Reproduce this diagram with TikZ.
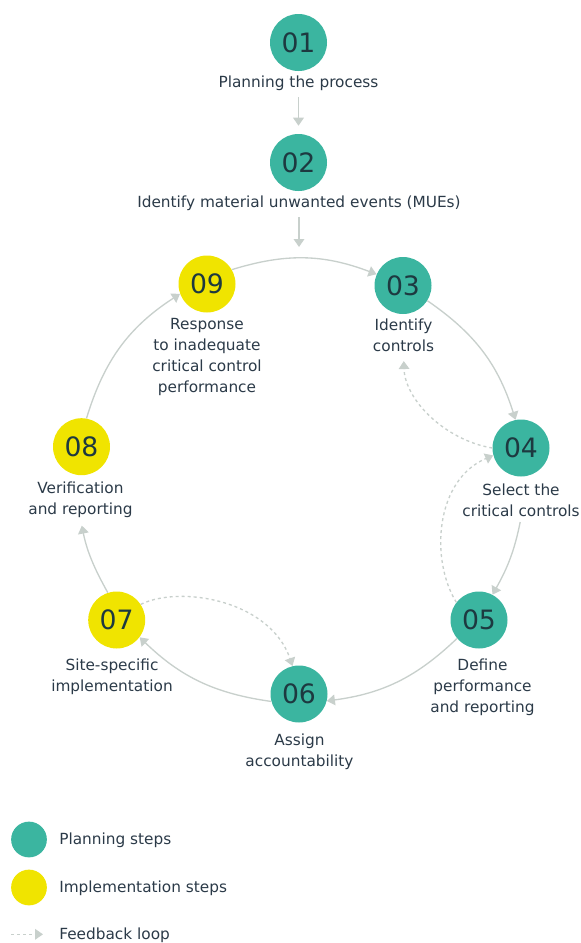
\documentclass[tikz,border=0pt]{standalone}
\usepackage{fontspec}
\setmainfont{DejaVu Sans}
\usepackage{tikz}
\usepackage{xcolor}
\usetikzlibrary{arrows.meta}

\definecolor{plancol}{HTML}{3BB5A0}
\definecolor{implcol}{HTML}{F0E400}
\definecolor{txtcol}{HTML}{2B3A48}
\definecolor{numcol}{HTML}{1D3940}
\definecolor{linecol}{HTML}{C8D0CC}

\begin{document}
\begin{tikzpicture}[x=0.75pt,y=0.75pt,yscale=-1,xscale=1,
    plan/.style={circle,fill=plancol,minimum size=42.75pt,inner sep=0pt,text=numcol,font=\fontsize{20}{24}\selectfont},
    impl/.style={plan,fill=implcol},
    lbl/.style={anchor=north,inner sep=1pt,align=center,text=txtcol,font=\fontsize{11.5}{15.75}\selectfont},
    key/.style={anchor=base west,inner sep=0pt,text=txtcol,font=\fontsize{11.5}{15.75}\selectfont},
    flow/.style={draw=linecol,line width=1pt,-{Triangle[length=6pt,width=8pt]}},
    fback/.style={flow,dash pattern=on 2.25pt off 2.25pt}]
    \useasboundingbox (0,0) rectangle (581,943);
    
    % Step circles
    \draw (298.5,42.5) node [plan] (s01) {01};
    \draw (298.5,162.5) node [plan] (s02) {02};
    \draw (403,285.5) node [plan] (s03) {03};
    \draw (521,448) node [plan] (s04) {04};
    \draw (479,620) node [plan] (s05) {05};
    \draw (299,694) node [plan] (s06) {06};
    \draw (116.7,620) node [impl] (s07) {07};
    \draw (81.5,446.7) node [impl] (s08) {08};
    \draw (207,284) node [impl] (s09) {09};
    
    % Text Node
    \draw (298.5,74) node [lbl] (t01) {Planning the process};
    % Text Node
    \draw (299,194.5) node [lbl] (t02) {Identify material unwanted events (MUEs)};
    % Text Node
    \draw (403.5,317) node [lbl] (t03) {Identify\\controls};
    % Text Node
    \draw (521,482) node [lbl] (t04) {Select the\\critical controls};
    % Text Node
    \draw (482.5,657) node [lbl] (t05) {Define\\performance\\and reporting};
    % Text Node
    \draw (299.5,732) node [lbl] (t06) {Assign\\accountability};
    % Text Node
    \draw (112,657) node [lbl] (t07) {Site-specific\\implementation};
    % Text Node
    \draw (80.5,480) node [lbl] (t08) {Verification\\and reporting};
    % Text Node
    \draw (207,317) node [lbl] (t09) {Response\\to inadequate\\critical control\\performance};
    
    % Straight arrows at the top
    \coordinate (c02) at (299,247);
    \draw [flow,shorten <=4pt,shorten >=6pt] (t01) -- (s02);
    \draw [flow,shorten <=3.5pt] (t02) -- (c02);
    
    % Cycle arcs (yscale=-1 mirrors the bends)
    \draw [flow] (s09.30) to [bend right=19] (s03.157);
    \draw [flow] (s03.-32) to [bend right=19] (s04.101);
    \draw [flow,shorten <=3pt] (t04.south) to [bend right=9] (s05.62);
    \draw [flow] (s05.-140) to [bend right=18] (s06.-14);
    \draw [flow] (s06.-165) to [bend right=18] (s07.-37);
    \draw [flow,shorten >=5pt] (s07.108) to [bend right=9] (t08.south);
    \draw [flow] (s08.80) to [bend right=20] (s09.-160);
    
    % Feedback loops
    \draw [fback,shorten >=6pt] (s04.180) .. controls (445,440) and (405,400) .. (t03.south);
    \draw [fback] (s05.142) .. controls (430,560) and (435,480) .. (s04.-165);
    \draw [fback] (s07.33) .. controls (180,585) and (270,600) .. (s06.103);
    
    % Legend
    \draw (29,839.5) node [plan,minimum size=26.8pt] (k1) {};
    \draw (29,887.5) node [impl,minimum size=26.8pt] (k2) {};
    \draw (59,844.3) node [key] (l1) {Planning steps};
    \draw (59,892.7) node [key] (l2) {Implementation steps};
    \coordinate (f1) at (11,934.3);
    \coordinate (f2) at (43,934.3);
    \draw [fback] (f1) -- (f2);
    \draw (59,939.3) node [key] (l3) {Feedback loop};
    
\end{tikzpicture}
\end{document}
